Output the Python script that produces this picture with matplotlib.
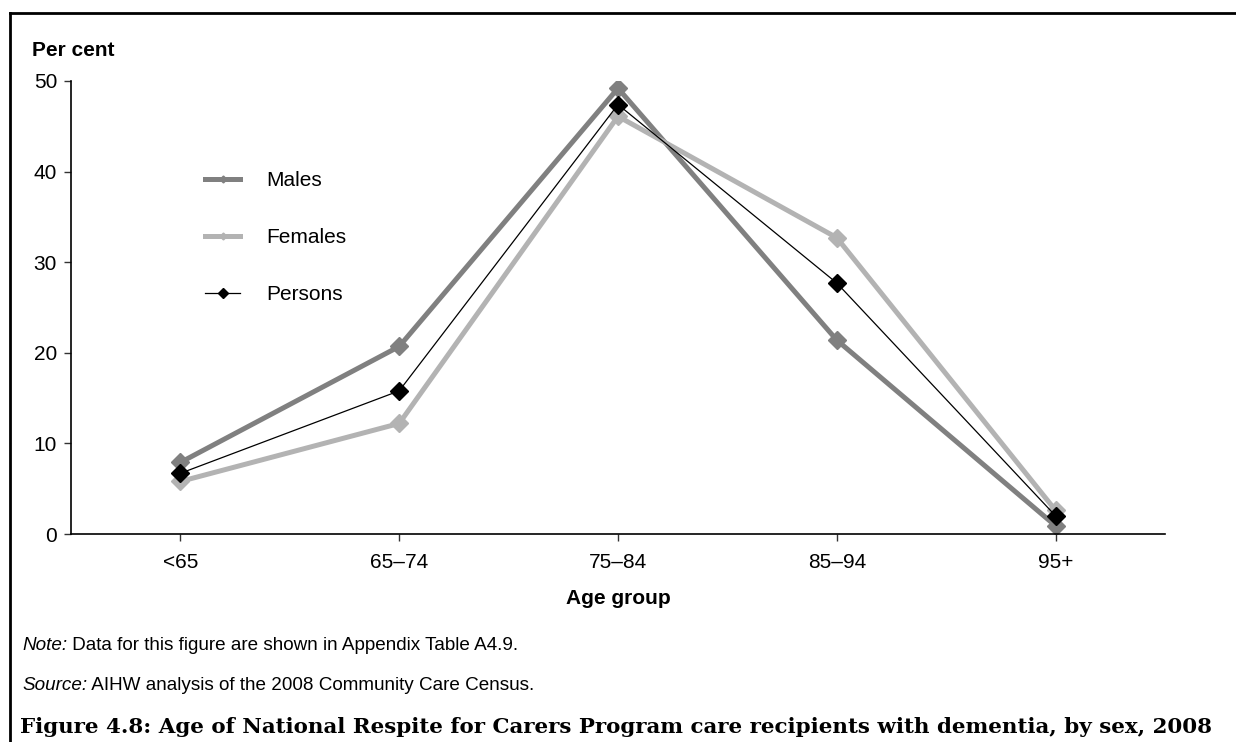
import matplotlib.pyplot as plt
from matplotlib.lines import Line2D

# data
age_groups = ["<65", "65\u201374", "75\u201384", "85\u201394", "95+"]
males = [7.9, 20.7, 49.2, 21.4, 0.9]
females = [5.8, 12.2, 46.1, 32.7, 2.6]
persons = [6.7, 15.8, 47.4, 27.7, 2.0]

plt.rcParams['font.family'] = ['Liberation Sans', 'DejaVu Sans']

W, H = 1236, 742
fig = plt.figure(figsize=(W / 100, H / 100), dpi=100)
ax = fig.add_axes([71 / W, 1 - 534 / H, (1165 - 71) / W, (534 - 81) / H])

x = range(len(age_groups))
ax.plot(x, males, color="#808080", lw=3.6, marker="D", ms=9.5, mec="#808080", zorder=2)
ax.plot(x, females, color="#b3b3b3", lw=3.6, marker="D", ms=9.5, mec="#b3b3b3", zorder=2)
ax.plot(x, persons, color="black", lw=0.9, marker="D", ms=9, mec="black", zorder=3)

ax.set_xlim(-0.5, len(age_groups) - 0.5)
ax.set_ylim(0, 50)
ax.set_xticks(list(x))
ax.set_xticklabels(age_groups)
ax.set_yticks([0, 10, 20, 30, 40, 50])
ax.tick_params(labelsize=15, length=5, width=1, color="#333333")
ax.tick_params(axis="x", pad=9)
ax.tick_params(axis="y", pad=5)
for s in ["top", "right"]:
    ax.spines[s].set_visible(False)
for s in ["left", "bottom"]:
    ax.spines[s].set_linewidth(1.2)

ax.set_xlabel("Age group", fontsize=15, fontweight="bold", labelpad=12)
fig.text(32 / W, 1 - 50 / H, "Per cent", fontsize=15, fontweight="bold", va="center", ha="left")

handles = [
    Line2D([], [], color="#808080", lw=3.6, marker="D", ms=3.5),
    Line2D([], [], color="#b3b3b3", lw=3.6, marker="D", ms=3.5),
    Line2D([], [], color="black", lw=0.9, marker="D", ms=5),
]
ax.legend(handles, ["Males", "Females", "Persons"], frameon=False, fontsize=15,
          loc="upper left", borderpad=0,
          bbox_to_anchor=((195 - 71) / (1165 - 71), (534 - 161) / (534 - 81)),
          handlelength=1.65, handletextpad=1.25, labelspacing=1.82)

# footnotes: italic lead-in followed by plain text
renderer = fig.canvas.get_renderer()
for lead, rest, ypix in [("Note:", " Data for this figure are shown in Appendix Table A4.9.", 645),
                         ("Source:", " AIHW analysis of the 2008 Community Care Census.", 685)]:
    t = fig.text(22 / W, 1 - ypix / H, lead, fontsize=13.6, style="italic", va="center")
    bb = t.get_window_extent(renderer)
    fig.text(bb.x1 / W, 1 - ypix / H, rest, fontsize=13.6, va="center")

# caption, sized so it spans the same width as in the reference
title = fig.text(20 / W, 1 - 727 / H,
                 "Figure 4.8: Age of National Respite for Carers Program care recipients with dementia, by sex, 2008",
                 fontsize=16, fontweight="bold", family="DejaVu Serif", va="center")
tw = title.get_window_extent(renderer).width
title.set_fontsize(16 * (1209 - 20) / tw)

# outer frame: top and left edges
fig.add_artist(Line2D([10 / W, 1], [1 - 13 / H, 1 - 13 / H], color="black", lw=2))
fig.add_artist(Line2D([10 / W, 10 / W], [1 - 13 / H, 0], color="black", lw=2))

fig.savefig("out.png", dpi=100)
